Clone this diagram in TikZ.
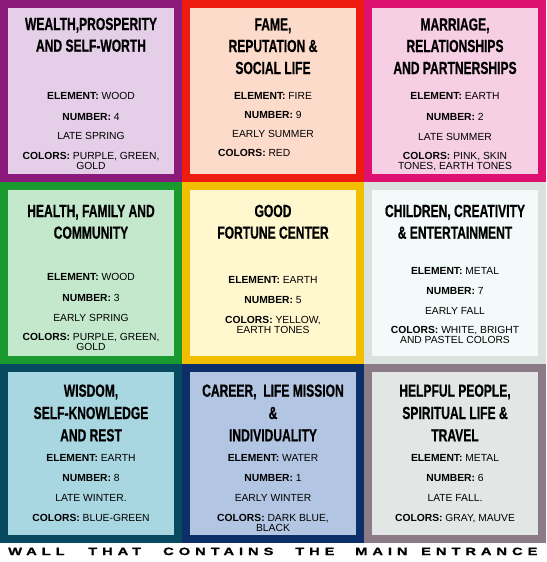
\documentclass[tikz,border=0pt]{standalone}
\usepackage{fontspec}
\setmainfont{Liberation Sans}
\newfontface\headfont[FakeStretch=0.69, FakeBold=0.6]{Liberation Sans Bold}
\newfontface\wallfont[FakeStretch=1.4, LetterSpace=47, FakeBold=1]{Liberation Sans Bold}

\definecolor{wealthB}{HTML}{8A1B7D}
\definecolor{wealthF}{HTML}{E4CEE8}
\definecolor{fameB}{HTML}{EE1C0E}
\definecolor{fameF}{HTML}{FDDBCB}
\definecolor{loveB}{HTML}{DE1070}
\definecolor{loveF}{HTML}{F6CFE5}
\definecolor{healthB}{HTML}{189A2E}
\definecolor{healthF}{HTML}{C3E8CC}
\definecolor{luckB}{HTML}{F2BF00}
\definecolor{luckF}{HTML}{FFF8CE}
\definecolor{kidsB}{HTML}{D9E2DD}
\definecolor{kidsF}{HTML}{F3FAFA}
\definecolor{wisdomB}{HTML}{074A5F}
\definecolor{wisdomF}{HTML}{A8D6E1}
\definecolor{careerB}{HTML}{0C2F69}
\definecolor{careerF}{HTML}{B2C5E2}
\definecolor{friendsB}{HTML}{8A7B87}
\definecolor{friendsF}{HTML}{E2E6E5}

\begin{document}
\begin{tikzpicture}[x=1pt, y=-1pt,
    head/.style={font=\headfont\fontsize{17.5}{21}\selectfont, anchor=base, inner sep=0pt},
    body/.style={font=\fontsize{10.3}{11}\selectfont, anchor=base, inner sep=0pt},
    wall/.style={font=\wallfont\fontsize{10.5}{11}\selectfont, anchor=base west, inner sep=0pt}]
  \useasboundingbox[fill=white] (0,0) rectangle (546,562);
  % the nine squares
  \foreach \nm/\x/\y/\h in {wealth/0/0/182, fame/182/0/182, love/364/0/182,
      health/0/182/182, luck/182/182/182, kids/364/182/182,
      wisdom/0/364/179, career/182/364/179, friends/364/364/179}{
    \fill[\nm B] (\x,\y) rectangle ++(182,\h);
    \fill[\nm F] (\x+8,\y+8) rectangle ++(166,\h-16);
  }
  % top row
  \foreach \yy/\tx [count=\i] in {30/{WEALTH,PROSPERITY}, 51.7/{AND SELF-WORTH}}
    \node[head] (wealth-h\i) at (91,\yy) {\tx};
  \foreach \yy/\tx [count=\i] in {99/{\textbf{ELEMENT:} WOOD}, 120/{\textbf{NUMBER:} 4},
      139/{LATE SPRING}, 159/{\textbf{COLORS:} PURPLE, GREEN,}, 169/{GOLD}}
    \node[body] (wealth-b\i) at (91,\yy) {\tx};
  \foreach \yy/\tx [count=\i] in {30.5/{FAME,}, 52/{REPUTATION \&}, 74/{SOCIAL LIFE}}
    \node[head] (fame-h\i) at (273,\yy) {\tx};
  \foreach \yy/\tx [count=\i] in {99/{\textbf{ELEMENT:} FIRE}, 118.3/{\textbf{NUMBER:} 9},
      137.3/{EARLY SUMMER}}
    \node[body] (fame-b\i) at (273,\yy) {\tx};
  \node[body, anchor=base west] (fame-b4) at (218,156.7) {\textbf{COLORS:} RED};
  \foreach \yy/\tx [count=\i] in {30.5/{MARRIAGE,}, 52/{RELATIONSHIPS}, 74/{AND PARTNERSHIPS}}
    \node[head] (love-h\i) at (455,\yy) {\tx};
  \foreach \yy/\tx [count=\i] in {99.3/{\textbf{ELEMENT:} EARTH}, 120/{\textbf{NUMBER:} 2},
      140/{LATE SUMMER}, 159.3/{\textbf{COLORS:} PINK, SKIN}, 169.3/{TONES, EARTH TONES}}
    \node[body] (love-b\i) at (455,\yy) {\tx};
  % middle row
  \foreach \yy/\tx [count=\i] in {217/{HEALTH, FAMILY AND}, 238.7/{COMMUNITY}}
    \node[head] (health-h\i) at (91,\yy) {\tx};
  \foreach \yy/\tx [count=\i] in {280.3/{\textbf{ELEMENT:} WOOD}, 301/{\textbf{NUMBER:} 3},
      321/{EARLY SPRING}, 340.3/{\textbf{COLORS:} PURPLE, GREEN,}, 350.3/{GOLD}}
    \node[body] (health-b\i) at (91,\yy) {\tx};
  \foreach \yy/\tx [count=\i] in {217/{GOOD}, 238.7/{FORTUNE CENTER}}
    \node[head] (luck-h\i) at (273,\yy) {\tx};
  \foreach \yy/\tx [count=\i] in {283.7/{\textbf{ELEMENT:} EARTH}, 303.7/{\textbf{NUMBER:} 5},
      323.7/{\textbf{COLORS:} YELLOW,}, 333.7/{EARTH TONES}}
    \node[body] (luck-b\i) at (273,\yy) {\tx};
  \foreach \yy/\tx [count=\i] in {217/{CHILDREN, CREATIVITY}, 238.7/{\& ENTERTAINMENT}}
    \node[head] (kids-h\i) at (455,\yy) {\tx};
  \foreach \yy/\tx [count=\i] in {274.3/{\textbf{ELEMENT:} METAL}, 294.3/{\textbf{NUMBER:} 7},
      314.3/{EARLY FALL}, 333.7/{\textbf{COLORS:} WHITE, BRIGHT}, 343.7/{AND PASTEL COLORS}}
    \node[body] (kids-b\i) at (455,\yy) {\tx};
  % bottom row
  \foreach \yy/\tx [count=\i] in {396.7/{WISDOM,}, 419/{SELF-KNOWLEDGE}, 441.3/{AND REST}}
    \node[head] (wisdom-h\i) at (91,\yy) {\tx};
  \foreach \yy/\tx [count=\i] in {461.7/{\textbf{ELEMENT:} EARTH}, 481.7/{\textbf{NUMBER:} 8},
      501.7/{LATE WINTER.}, 521.7/{\textbf{COLORS:} BLUE-GREEN}}
    \node[body] (wisdom-b\i) at (91,\yy) {\tx};
  \foreach \yy/\tx [count=\i] in {396.7/{CAREER,\ \ LIFE MISSION}, 419/{\&}, 441.3/{INDIVIDUALITY}}
    \node[head] (career-h\i) at (273,\yy) {\tx};
  \foreach \yy/\tx [count=\i] in {461.7/{\textbf{ELEMENT:} WATER}, 481.7/{\textbf{NUMBER:} 1},
      501.7/{EARLY WINTER}, 521.7/{\textbf{COLORS:} DARK BLUE,}, 531.7/{BLACK}}
    \node[body] (career-b\i) at (273,\yy) {\tx};
  \foreach \yy/\tx [count=\i] in {396.7/{HELPFUL PEOPLE,}, 419/{SPIRITUAL LIFE \&}, 441.3/{TRAVEL}}
    \node[head] (friends-h\i) at (455,\yy) {\tx};
  \foreach \yy/\tx [count=\i] in {461.7/{\textbf{ELEMENT:} METAL}, 481.7/{\textbf{NUMBER:} 6},
      501.7/{LATE FALL.}, 521.7/{\textbf{COLORS:} GRAY, MAUVE}}
    \node[body] (friends-b\i) at (455,\yy) {\tx};
  % the wall line
  \foreach \xx/\word [count=\i] in {8/WALL, 88/THAT, 163/CONTAINS, 295/THE, 355/MAIN, 421/ENTRANCE}
    \node[wall] (wall\i) at (\xx,555) {\word};
\end{tikzpicture}
\end{document}
